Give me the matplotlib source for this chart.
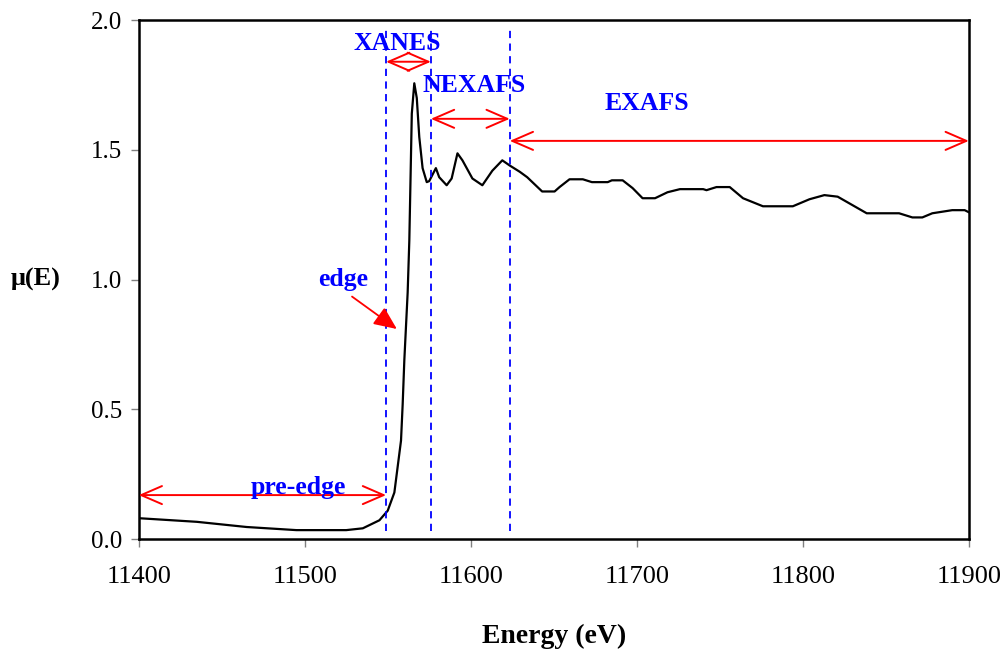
import matplotlib.pyplot as plt

# X-ray absorption spectrum
energy = [11400, 11435, 11465, 11495, 11525, 11535, 11545, 11550, 11554, 11556,
          11558, 11559, 11560, 11561, 11562, 11563, 11564.5, 11566, 11567.5, 11569,
          11571, 11573.5, 11575, 11579, 11581, 11585.5, 11588.5, 11592, 11595, 11601,
          11607, 11613, 11619, 11623.5, 11629.5, 11634, 11643, 11650.5, 11653.5, 11659.5,
          11667.5, 11673, 11682.5, 11685, 11691.5, 11697.5, 11703.5, 11711, 11718.5, 11726,
          11740, 11742, 11748, 11756, 11764, 11776, 11794, 11804, 11813, 11821,
          11838.5, 11858, 11866, 11872, 11878, 11890, 11897.5, 11900]
mu = [0.081, 0.067, 0.047, 0.035, 0.035, 0.042, 0.073, 0.11, 0.18, 0.28,
      0.38, 0.52, 0.69, 0.82, 0.95, 1.15, 1.64, 1.757, 1.70, 1.55,
      1.43, 1.376, 1.38, 1.43, 1.395, 1.364, 1.39, 1.487, 1.46, 1.39,
      1.364, 1.42, 1.46, 1.44, 1.416, 1.395, 1.34, 1.34, 1.357, 1.387,
      1.387, 1.376, 1.376, 1.383, 1.383, 1.353, 1.314, 1.314, 1.337, 1.349,
      1.349, 1.345, 1.357, 1.357, 1.314, 1.283, 1.283, 1.31, 1.326, 1.32,
      1.256, 1.256, 1.24, 1.24, 1.256, 1.268, 1.268, 1.26]

# region boundaries (dashed lines)
boundaries = [11549, 11576, 11623.5]

# double arrows: (start, end, height)
region_arrows = [(11400, 11549, 0.17), (11549, 11576, 1.84),
                 (11576, 11623.5, 1.62), (11623.5, 11900, 1.535)]
region_labels = ["pre-edge", "XANES", "NEXAFS", "EXAFS"]
label_pos = [(11496, 0.20), (11556, 1.91), (11602, 1.75), (11706, 1.68)]

plt.rcParams['font.family'] = ['Liberation Serif', 'DejaVu Serif']

fig = plt.figure(figsize=(10.05, 6.52), dpi=100)
ax = fig.add_axes([0.138, 0.173, 0.826, 0.796])

ax.plot(energy, mu, color='black', linewidth=1.6)

for b in boundaries:
    ax.axvline(b, ymin=0.015, ymax=0.985, color='blue', linestyle=(0, (4, 3)), linewidth=1.3)

for (x0, x1, y) in region_arrows:
    ax.annotate('', xy=(x1, y), xytext=(x0, y),
                arrowprops=dict(arrowstyle='<->,head_length=1.5,head_width=0.65',
                                color='red', linewidth=1.4, shrinkA=0, shrinkB=0))

for lab, (x, y) in zip(region_labels, label_pos):
    ax.text(x, y, lab, color='blue', fontsize=18.5, fontweight='bold', ha='center', va='center')

# edge label with filled arrow
ax.text(11523, 1.0, 'edge', color='blue', fontsize=18.5, fontweight='bold',
        ha='center', va='center')
ax.annotate('', xy=(11555.5, 0.81), xytext=(11528.5, 0.935),
            arrowprops=dict(arrowstyle='-|>,head_length=1.4,head_width=0.62',
                            color='red', linewidth=1.3, shrinkA=0, shrinkB=0))

ax.set_xlim(11400, 11900)
ax.set_ylim(0, 2.0)
ax.set_xticks([11400, 11500, 11600, 11700, 11800, 11900])
ax.set_yticks([0.0, 0.5, 1.0, 1.5, 2.0])
ax.set_yticklabels(['0.0', '0.5', '1.0', '1.5', '2.0'])
ax.tick_params(direction='out', length=6, width=1, color='gray', pad=6)
ax.tick_params(axis='x', labelsize=19, pad=13)
ax.tick_params(axis='y', labelsize=18)
for s in ax.spines.values():
    s.set_linewidth(1.8)

ax.set_xlabel('Energy (eV)', fontsize=20, fontweight='bold', labelpad=26)
ax.set_ylabel('μ(E)', fontsize=19, fontweight='bold', rotation=0, labelpad=40, va='center')

fig.savefig('out.png', dpi=100)
